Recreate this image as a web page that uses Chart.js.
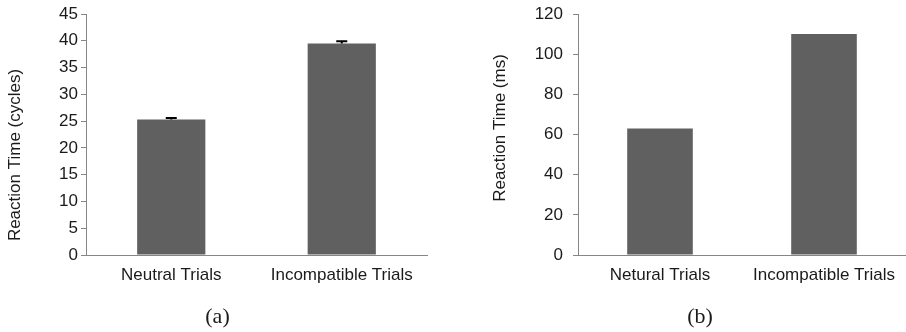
<!DOCTYPE html>
<html>
<head>
<meta charset="utf-8">
<script src="https://cdn.jsdelivr.net/npm/chart.js@4/dist/chart.umd.min.js"></script>
<style>
  html, body { margin: 0; padding: 0; background: #ffffff; }
  #wrap { position: relative; width: 906px; height: 332px; overflow: hidden; }
  canvas { position: absolute; top: 0; }
</style>
</head>
<body>
<div id="wrap">
  <canvas id="chartA" width="453" height="332" style="left:0px"></canvas>
  <canvas id="chartB" width="453" height="332" style="left:453px"></canvas>
</div>
<script>
// ---- data ----
const categoriesA = ['Neutral Trials', 'Incompatible Trials'];
const valuesA = [25.3, 39.5];
const errorsA = [0.3, 0.4];
const yMaxA = 45;
const yStepA = 5;
const yTitleA = 'Reaction Time (cycles)';
const captionA = '(a)';

const categoriesB = ['Netural Trials', 'Incompatible Trials'];
const valuesB = [63, 110];
const yMaxB = 120;
const yStepB = 20;
const yTitleB = 'Reaction Time (ms)';
const captionB = '(b)';

// ---- styles ----
const BAR = '#606060';
const AXIS = '#868686';
const TEXT = '#1a1a1a';
const SANS = "'Liberation Sans', Arial, sans-serif";
const SERIF = "'Liberation Serif', 'Times New Roman', serif";

const errorBarPlugin = {
  id: 'errorBars',
  afterDatasetsDraw(chart, args, opts) {
    if (!opts || !opts.errors) return;
    const ctx = chart.ctx;
    const meta = chart.getDatasetMeta(0);
    const y = chart.scales.y;
    const vals = chart.data.datasets[0].data;
    ctx.save();
    ctx.strokeStyle = '#000000';
    ctx.lineWidth = 2;
    meta.data.forEach((bar, i) => {
      const e = opts.errors[i];
      if (e == null) return;
      const top = y.getPixelForValue(vals[i] + e);
      const base = y.getPixelForValue(vals[i]);
      ctx.beginPath();
      ctx.moveTo(bar.x, base);
      ctx.lineTo(bar.x, top);
      ctx.moveTo(bar.x - 5.5, top);
      ctx.lineTo(bar.x + 5.5, top);
      ctx.stroke();
    });
    ctx.restore();
  }
};

const labelsPlugin = {
  id: 'extraLabels',
  afterDraw(chart, args, opts) {
    const ctx = chart.ctx;
    ctx.save();
    ctx.fillStyle = TEXT;
    ctx.font = '17px ' + SANS;
    ctx.textAlign = 'center';
    ctx.textBaseline = 'middle';
    ctx.translate(opts.titleX, opts.titleY);
    ctx.rotate(-Math.PI / 2);
    ctx.fillText(opts.title, 0, 0);
    ctx.restore();
    ctx.save();
    ctx.fillStyle = TEXT;
    ctx.font = '22px ' + SERIF;
    ctx.textAlign = 'center';
    ctx.textBaseline = 'middle';
    ctx.fillText(opts.caption, opts.capX, opts.capY);
    ctx.restore();
  }
};

function makeChart(id, cats, vals, yMax, yStep, yWidth, padRight, tickPad, extra, errors) {
  return new Chart(document.getElementById(id), {
    type: 'bar',
    data: {
      labels: cats,
      datasets: [{
        data: vals,
        backgroundColor: BAR,
        borderWidth: 0,
        barPercentage: 0.4,
        categoryPercentage: 1.0
      }]
    },
    plugins: [errorBarPlugin, labelsPlugin],
    options: {
      responsive: false,
      animation: false,
      devicePixelRatio: 1,
      layout: { padding: { left: 0, right: padRight, top: 14, bottom: 47 } },
      plugins: {
        legend: { display: false },
        tooltip: { enabled: false },
        title: { display: false },
        errorBars: { errors: errors },
        extraLabels: extra
      },
      scales: {
        x: {
          afterFit(s) { s.height = 30; s.paddingLeft = 0; s.paddingRight = 0; },
          grid: { display: false, drawTicks: false },
          border: { display: true, color: AXIS, width: 1 },
          ticks: { color: TEXT, font: { family: SANS, size: 17 }, padding: 10, maxRotation: 0, autoSkip: false }
        },
        y: {
          min: 0,
          max: yMax,
          afterFit(s) { s.width = yWidth; s.paddingTop = 0; s.paddingBottom = 0; },
          grid: { display: true, drawOnChartArea: false, drawTicks: true, tickLength: 5, color: AXIS },
          border: { display: true, color: AXIS, width: 1 },
          ticks: { stepSize: yStep, color: TEXT, font: { family: SANS, size: 17 }, padding: tickPad }
        }
      }
    }
  });
}

makeChart('chartA', categoriesA, valuesA, yMaxA, yStepA, 86, 26, 3,
  { title: yTitleA, titleX: 15, titleY: 155, caption: captionA, capX: 217.5, capY: 317 }, errorsA);
makeChart('chartB', categoriesB, valuesB, yMaxB, yStepB, 125, 0, 10,
  { title: yTitleB, titleX: 47, titleY: 128, caption: captionB, capX: 247, capY: 317 }, null);
</script>
</body>
</html>
